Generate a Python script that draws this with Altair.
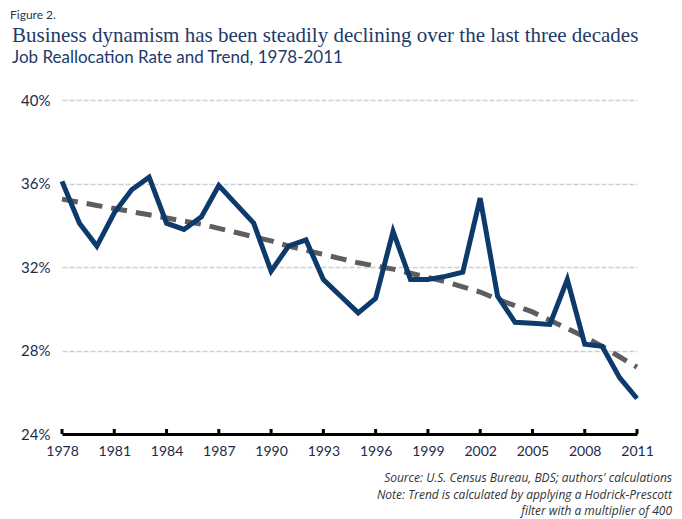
import altair as alt
import pandas as pd

years = list(range(1978, 2012))
rate = [36.1, 34.1, 33.0, 34.6, 35.7, 36.3, 34.1, 33.8, 34.4, 35.9,
        35.0, 34.1, 31.8, 33.0, 33.3, 31.4, 30.6, 29.8, 30.5, 33.7,
        31.4, 31.4, 31.55, 31.75, 35.3, 30.6, 29.35, 29.3, 29.25, 31.4,
        28.3, 28.2, 26.7, 25.7]
trend = [35.25, 35.1, 34.95, 34.8, 34.65, 34.5, 34.35, 34.2, 34.05, 33.85,
         33.65, 33.45, 33.25, 33.0, 32.8, 32.6, 32.4, 32.2, 32.05, 31.9,
         31.7, 31.5, 31.3, 31.05, 30.8, 30.45, 30.15, 29.85, 29.45, 29.05,
         28.65, 28.2, 27.7, 27.2]
tick_years = [1978, 1981, 1984, 1987, 1990, 1993, 1996, 1999, 2002, 2005, 2008, 2011]
y_ticks = [24, 28, 32, 36, 40]

title_text = "Business dynamism has been steadily declining over the last three decades"
subtitle_text = "Job Reallocation Rate and Trend, 1978-2011"
figure_label = "Figure 2."
notes = ["Source: U.S. Census Bureau, BDS; authors' calculations",
         "Note: Trend is calculated by applying a Hodrick-Prescott",
         "filter with a multiplier of 400"]

df = pd.DataFrame({"year": years, "rate": rate, "trend": trend})
ticks_df = pd.DataFrame({"year": tick_years})

W, H = 575, 334
xscale = alt.Scale(domain=[1978, 2011], nice=False, zero=False)
yscale = alt.Scale(domain=[24, 40], nice=False, zero=False)

base = alt.Chart(df)

x_axis = alt.Axis(values=tick_years, format="d", title=None, ticks=False,
                  domain=True, domainColor="#000000", domainWidth=3,
                  labelFont="Lato", labelFontSize=14, labelColor="#1c2b4a",
                  labelPadding=10, grid=False, labelFlush=False)
y_axis = alt.Axis(values=y_ticks, title=None, ticks=False, domain=False,
                  labelExpr="datum.value + '%'", labelFont="Lato",
                  labelFontSize=15, labelColor="#1c2b4a", labelPadding=12,
                  grid=True, gridColor="#cfcfcf", gridDash=[5, 2], gridWidth=1.5)

trend_line = base.mark_line(color="#5e5e5e", strokeWidth=5, strokeDash=[16, 9]).encode(
    x=alt.X("year:Q", scale=xscale, axis=x_axis),
    y=alt.Y("trend:Q", scale=yscale, axis=y_axis),
)
rate_line = base.mark_line(color="#0c3a6b", strokeWidth=5, strokeJoin="miter").encode(
    x=alt.X("year:Q", scale=xscale),
    y=alt.Y("rate:Q", scale=yscale),
)
tick_marks = alt.Chart(ticks_df).mark_rule(color="#000000", strokeWidth=3).encode(
    x=alt.X("year:Q", scale=xscale),
    y=alt.value(H),
    y2=alt.value(H - 5),
)

one = alt.Data(values=[{"a": 1}])
fig_text = alt.Chart(one).mark_text(align="left", baseline="alphabetic", font="Lato",
                                    fontSize=12, color="#2a3550").encode(
    x=alt.value(-52), y=alt.value(-81), text=alt.value(figure_label))
title_mark = alt.Chart(one).mark_text(align="left", baseline="alphabetic",
                                      font="Liberation Serif", fontSize=21,
                                      color="#1d3a6a").encode(
    x=alt.value(-50), y=alt.value(-58), text=alt.value(title_text))
sub_mark = alt.Chart(one).mark_text(align="left", baseline="alphabetic", font="Lato",
                                    fontSize=17, color="#1d3a6a").encode(
    x=alt.value(-50), y=alt.value(-37), text=alt.value(subtitle_text))
note_marks = []
for i, t in enumerate(notes):
    note_marks.append(alt.Chart(one).mark_text(align="right", baseline="alphabetic",
                                               font="Open Sans", fontStyle="italic",
                                               fontSize=12, color="#333333").encode(
        x=alt.value(W + 35), y=alt.value(H + 48 + i * 16.5), text=alt.value(t)))

chart = alt.layer(trend_line, rate_line, tick_marks, fig_text, title_mark, sub_mark,
                  *note_marks).properties(
    width=W, height=H,
    autosize=alt.AutoSizeParams(type="none"),
    padding={"left": 54, "top": 92, "right": 37, "bottom": 90},
).configure_view(stroke=None)

chart.save("out.html", embed_options={"renderer": "svg", "actions": False})
